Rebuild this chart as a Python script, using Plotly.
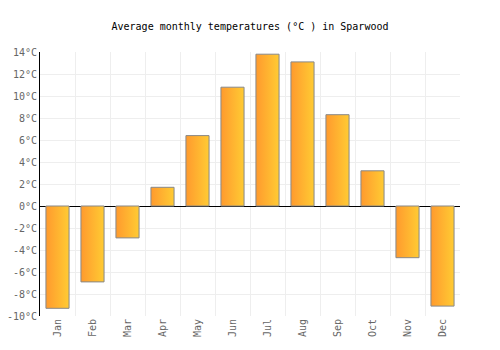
import plotly.graph_objects as go

months = ["Jan", "Feb", "Mar", "Apr", "May", "Jun", "Jul", "Aug", "Sep", "Oct", "Nov", "Dec"]
temps = [-9.3, -6.9, -2.9, 1.7, 6.4, 10.8, 13.8, 13.1, 8.3, 3.2, -4.7, -9.1]
y_ticks = list(range(-10, 15, 2))
y_labels = [f"{v}°C" for v in y_ticks]

FONT = "DejaVu Sans Mono"
half = 0.33

fig = go.Figure()
for i, (m, t) in enumerate(zip(months, temps)):
    fig.add_trace(go.Scatter(
        x=[i - half, i + half, i + half, i - half, i - half],
        y=[0, 0, t, t, 0],
        mode="lines",
        fill="toself",
        fillgradient=dict(type="horizontal",
                          colorscale=[[0, "#FF9A2E"], [1, "#FFCB33"]]),
        line=dict(color="#888888", width=1),
        hoverinfo="text", text=f"{m}: {t}°C",
        showlegend=False,
    ))

fig.update_layout(
    width=500, height=350,
    margin=dict(l=40, r=40, t=52, b=34, autoexpand=False),
    paper_bgcolor="white", plot_bgcolor="white",
    title=dict(text="Average monthly temperatures (°C ) in Sparwood",
               x=0.5, xanchor="center", y=0.925, yanchor="middle",
               font=dict(family=FONT, size=10, color="#000000")),
    font=dict(family=FONT, size=10, color="#666666"),
    xaxis=dict(range=[-0.5, 11.5], tickvals=list(range(12)), ticktext=months,
               tickangle=-90, showgrid=False, zeroline=False, automargin=False,
               minor=dict(tickvals=[k - 0.5 for k in range(13)], showgrid=True,
                          gridcolor="#EEEEEE", gridwidth=1, ticklen=0),
               ticks="", fixedrange=True),
    yaxis=dict(range=[-10, 14], tickvals=y_ticks, ticktext=y_labels,
               showgrid=True, gridcolor="#EEEEEE", gridwidth=1, automargin=False,
               zeroline=True, zerolinecolor="#000000", zerolinewidth=1,
               showline=True, linecolor="#000000", linewidth=1,
               ticks="", fixedrange=True),
)

fig.write_html("out.html")
